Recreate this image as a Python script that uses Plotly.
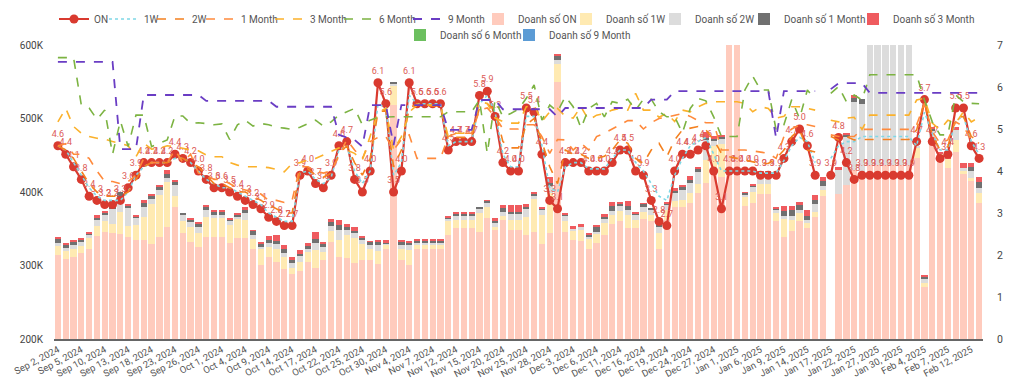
import pandas as pd
import plotly.graph_objects as go

# ---- categories (weekdays) ----
dates = [f"{d:%b} {d.day}, {d.year}" for d in pd.bdate_range("2024-09-02", "2025-02-13")]

# ---- line series (right axis) ----
rate_on = [4.6,4.4,4.1,3.8,3.4,3.3,3.2,3.2,3.3,3.6,
           3.9,4.2,4.2,4.2,4.2,4.4,4.3,4.2,4.0,3.8,
           3.6,3.6,3.5,3.4,3.3,3.2,3.1,2.9,2.8,2.7,
           2.7,3.9,4.0,3.7,3.6,3.9,4.6,4.7,3.8,3.5,
           4.0,6.1,5.6,3.5,4.0,6.1,5.6,5.6,5.6,5.6,
           4.5,4.7,4.7,4.7,5.8,5.9,5.3,4.2,4.0,4.0,
           5.5,5.4,4.4,3.3,3.1,4.2,4.2,4.2,4.0,4.0,
           4.0,4.2,4.5,4.5,4.0,3.9,3.3,2.8,2.7,4.0,
           4.4,4.4,4.5,4.6,4.0,3.1,4.0,4.0,4.0,4.0,
           3.9,3.9,3.9,4.3,4.7,5.0,4.6,3.9,None,3.9,
           4.8,4.2,3.8,3.9,3.9,3.9,3.9,3.9,3.9,3.9,
           4.7,5.7,4.7,4.3,4.4,5.5,5.5,4.6,4.3]
rate_1w = [4.6,4.5,4.2,3.9,3.6,3.4,3.3,3.3,3.3,3.5,3.9,4.1,4.2,4.2,4.2,4.3,4.3,4.2,4.0,3.8,3.7,3.6,3.6,3.5,3.4,3.3,3.2,3.0,2.9,2.8,2.8,
           3.95,4.0,3.8,3.7,3.85,4.5,4.6,4.0,3.7,4.0,5.6,5.5,3.9,4.2,5.8,5.6,5.6,5.6,5.6,4.6,4.7,4.7,4.7,5.6,5.8,5.4,4.4,4.1,4.1,5.3,5.3,4.6,3.6,3.5,4.1,4.2,4.2,4.05,4.05,4.05,
           4.3,4.5,4.5,4.2,4.0,3.7,3.4,3.3,3.9,4.3,4.6,4.7,4.8,4.4,4.0,4.0,4.0,4.0,4.0,3.95,3.95,3.95,4.25,4.6,4.8,
           4.7,4.2,None,4.3,4.6,4.7,4.7,4.82,4.82,4.82,4.82,4.82,4.82,4.82,4.6,5.4,4.9,4.5,4.5,5.2,5.3,4.7,4.4]
rate_2w = [4.6,4.5,4.3,4.0,3.7,3.5,3.4,3.4,3.4,3.5,3.8,4.1,4.2,4.2,4.2,4.3,4.3,4.2,4.1,3.9,3.7,3.7,3.6,3.5,3.5,3.4,3.3,3.2,3.1,3.0,3.0,
           4.0,4.05,3.9,3.85,3.95,4.4,4.6,4.2,3.9,4.3,5.4,5.45,4.1,4.5,5.5,5.6,5.55,5.55,5.55,4.75,4.8,4.8,4.8,5.5,5.6,5.45,4.7,4.55,4.55,5.1,5.25,4.7,4.1,3.7,4.5,4.4,4.4,4.3,4.3,4.35,
           4.5,4.74,4.66,4.3,4.18,4.5,4.66,4.34,4.74,4.98,5.02,5.06,4.98,4.74,4.42,4.34,4.3,4.26,4.22,4.18,4.18,4.3,4.5,4.82,4.98,
           4.5,4.45,None,4.82,4.74,4.82,4.74,4.75,4.75,4.75,4.75,4.75,4.75,4.75,4.98,5.65,4.86,4.5,4.58,5.26,5.3,4.82,4.7]
rate_1m = [4.6,4.65,4.4,4.4,4.3,4.0,3.75,3.75,3.7,3.75,3.9,4.3,4.2,4.2,4.2,4.5,4.2,4.4,3.95,3.9,3.8,3.8,3.7,3.6,3.55,3.5,3.45,3.3,3.3,3.25,3.3,
           4.1,4.1,4.0,3.95,4.0,4.35,4.75,4.5,4.3,4.7,4.8,4.82,4.5,4.75,4.86,4.3,4.3,4.3,4.3,4.82,4.9,4.9,4.9,5.45,5.5,5.3,5.0,5.0,5.0,5.1,5.1,4.82,4.42,4.75,4.74,4.5,4.66,4.5,4.82,4.9,
           5.0,5.1,5.2,5.2,5.0,5.15,5.25,5.28,5.33,5.37,5.3,5.2,5.15,5.15,4.5,4.5,4.5,4.5,4.48,4.45,4.42,4.3,4.82,5.0,5.1,
           5.1,5.06,None,4.86,4.82,4.82,4.82,4.99,4.99,4.99,4.99,4.99,4.99,4.99,5.1,5.61,4.94,4.66,4.74,5.17,5.06,4.74,4.66]
rate_3m = [5.17,5.49,5.06,4.9,4.82,4.78,4.76,4.7,4.66,4.6,4.34,4.66,4.52,4.54,4.6,4.58,4.54,4.5,4.48,4.38,4.34,4.34,4.2,4.14,4.1,4.1,4.1,4.08,4.04,3.98,4.18,
           4.2,4.26,4.3,4.38,4.46,4.55,4.5,4.42,4.26,4.82,5.4,5.49,4.5,4.82,5.4,5.57,5.57,5.57,5.57,
           4.82,4.9,4.9,4.9,5.65,5.61,5.26,5.18,5.14,5.14,5.53,5.57,5.18,5.41,5.49,5.3,5.26,5.53,5.21,5.33,5.37,
           5.45,5.49,5.45,5.85,5.45,5.45,5.28,5.37,5.18,5.45,5.41,5.53,5.61,5.65,5.65,5.65,5.65,5.61,5.41,5.53,5.49,5.26,5.3,5.53,5.53,
           5.49,5.45,None,5.21,5.17,5.26,5.28,4.99,5.33,5.33,5.33,5.33,5.33,5.33,5.69,5.73,5.14,4.98,5.21,5.14,5.41,5.17,5.28]
rate_6m = [6.7,6.7,6.7,5.57,5.5,5.23,5.45,4.4,5.19,4.58,5.33,5.33,4.58,4.66,4.74,5.31,5.31,5.13,5.15,5.13,5.1,5.12,4.75,5.1,5.21,5.07,5.13,5.1,5.04,5.02,4.99,
           5.04,5.13,5.21,5.07,5.17,5.33,5.41,5.49,5.1,5.21,5.28,5.29,5.29,5.29,5.29,5.29,5.29,5.29,5.29,
           5.41,5.41,5.41,5.41,5.69,4.42,5.69,5.29,5.37,5.47,5.73,6.05,5.21,5.57,5.41,5.77,5.53,5.02,5.49,5.61,5.29,
           5.65,5.61,5.71,5.45,5.71,5.71,5.41,5.29,5.29,4.91,5.49,5.73,5.67,5.29,4.82,4.82,4.82,5.93,6.26,5.93,5.93,4.98,5.1,5.7,5.25,
           5.93,5.7,None,5.85,6.01,5.65,5.81,5.69,6.29,6.29,6.29,6.29,6.29,6.29,6.29,5.69,5.17,4.86,4.86,5.81,5.65,5.61,5.6]
rate_9m = [6.6,6.6,6.6,6.6,6.6,6.6,6.6,6.6,4.52,4.52,4.52,5.81,5.81,5.81,5.81,5.81,5.81,5.81,5.81,5.67,5.67,5.67,5.67,5.67,5.67,5.67,5.67,5.67,
           5.53,5.53,5.53,5.53,5.53,5.53,5.53,5.53,4.86,4.8,4.74,4.58,5.57,5.57,5.57,4.62,5.57,5.57,5.57,5.57,5.57,5.57,
           4.98,4.98,4.98,4.98,5.69,5.69,5.69,5.47,5.47,5.47,5.47,5.47,5.47,5.47,5.29,
           5.5,5.5,5.5,5.5,5.5,5.5,5.5,5.5,5.5,5.5,5.5,5.7,5.7,5.7,
           5.9,5.9,5.9,5.9,5.9,5.9,5.9,5.9,5.9,5.9,5.9,5.9,5.9,4.78,5.9,5.9,5.9,5.9,5.9,None,5.95,
           6.09,6.09,6.09,6.09,5.86,5.86,5.86,5.86,5.86,5.86,5.86,5.86,5.86,5.86,5.86,5.86,5.86,5.86,5.86]

# ---- stacked bars (left axis, thousands) ----
bar_on = [314,309,311,317,323,340,346,344,343,339,
          335,335,329,339,353,380,344,332,325,339,
          339,339,330,338,337,322,301,312,305,295,
          289,292,305,296,307,332,312,310,304,307,
          307,302,323,518,307,301,322,322,322,322,
          341,351,351,351,345,365,348,362,348,348,
          342,345,329,344,549,346,335,333,322,330,
          341,357,360,351,351,363,360,322,362,380,
          380,385,399,412,425,420,660,660,381,385,
          397,397,360,339,347,360,351,366,394,None,
          397,410,430,425,437,437,437,437,437,437,
          446,271,475,443,432,455,425,415,385]
bar_1w = [13,11,12,9,14,14,14,13,30,15,
          20,31,55,57,61,14,17,21,19,27,
          26,26,25,26,25,14,22,13,18,17,
          7,13,14,25,11,15,23,31,34,22,
          15,18,6,26,15,20,6,6,6,6,
          19,11,11,11,27,15,5,5,14,14,
          24,45,40,55,25,14,12,15,14,14,
          17,12,14,18,11,10,9,22,14,8,
          9,13,12,31,37,45,0,0,12,15,
          14,14,11,24,15,11,7,7,9,None,
          0,0,0,0,0,0,0,0,0,0,
          14,5,0,10,14,16,3,4,14]
bar_2w = [4,4,5,6,4,8,10,20,20,24,
          9,14,6,7,5,15,8,7,8,9,
          4,4,5,2,9,5,2,5,6,5,
          8,8,4,10,7,7,13,7,6,6,
          6,8,1,4,6,7,3,3,3,3,
          4,5,5,5,6,6,5,6,8,8,
          11,5,7,9,5,7,3,5,4,2,
          6,5,7,7,7,7,7,9,6,10,
          14,14,16,28,8,8,0,0,3,7,
          10,10,4,4,6,5,4,11,5,None,
          33,65,93,95,250,250,250,250,250,250,
          2,5,9,0,0,13,5,9,6]
bar_1m = [6,4,4,4,3,3,2,5,7,4,
          3,5,4,5,5,5,3,2,5,5,
          5,5,3,3,4,6,4,5,5,6,
          4,3,4,5,4,5,7,5,3,3,
          4,5,1,1,5,3,2,2,2,2,
          1,3,3,3,2,2,2,5,3,3,
          3,3,2,4,6,3,0,0,2,7,
          2,7,4,5,2,4,2,4,3,4,
          4,4,4,3,2,2,0,0,3,2,
          5,5,3,7,7,6,6,5,7,None,
          0,2,5,6,0,0,0,0,0,0,
          0,4,2,0,0,0,0,6,9]
bar_3m = [2,2,3,2,1,4,2,1,0,1,
          1,4,3,2,6,1,0,2,2,2,
          2,2,1,2,5,1,3,5,7,5,
          3,5,3,10,3,4,7,4,5,1,
          1,2,4,0,2,1,3,3,3,3,
          1,3,3,3,0,1,4,4,9,9,
          4,1,2,8,3,2,4,4,2,2,
          4,6,2,7,1,1,0,2,2,3,
          3,6,3,7,4,3,0,0,1,1,
          2,2,2,7,6,4,8,7,5,None,
          4,3,4,0,0,0,0,0,0,0,
          0,2,2,2,2,5,7,6,7]
bar_6m = [0] * len(dates)
bar_9m = [0] * len(dates)

left_ticks = [200, 300, 400, 500, 600]
left_ticktext = ["200K", "300K", "400K", "500K", "600K"]

FONT = "Roboto, Arial, sans-serif"
fig = go.Figure()

# legend placement per entry (text left x in px, row centre y in px)
legend_pos = [(94, 19), (144, 19), (192, 19), (241, 19), (310, 19), (379, 19), (448, 19),
              (518, 19), (606, 19), (695, 19), (784, 19), (893, 19), (440, 35), (549, 35)]
legend_ids = ["legend" if k == 0 else f"legend{k+1}" for k in range(len(legend_pos))]

lines = [
    ("ON", rate_on, "#d93a2f", "solid", 2.2),
    ("1W", rate_1w, "#7fd8e6", "dot", 1.6),
    ("2W", rate_2w, "#f4801f", "dash", 1.6),
    ("1 Month", rate_1m, "#ff8a3c", "dash", 1.6),
    ("3 Month", rate_3m, "#fbb12b", "dash", 1.6),
    ("6 Month", rate_6m, "#7cb342", "dash", 1.6),
    ("9 Month", rate_9m, "#6a3dc4", "dash", 1.8),
]
k = 0
for name, vals, col, dash, w in lines:
    if name == "ON":
        fig.add_trace(go.Scatter(
            x=dates, y=vals, name=name, yaxis="y2", mode="lines+markers+text",
            line=dict(color=col, width=w), marker=dict(color=col, size=9),
            texttemplate="%{y:.1f}", textposition="top center",
            textfont=dict(size=9, color="#dc5b57", family=FONT),
            cliponaxis=False, connectgaps=False, legend=legend_ids[k]))
    else:
        fig.add_trace(go.Scatter(
            x=dates, y=vals, name=name, yaxis="y2", mode="lines",
            line=dict(color=col, width=w, dash=dash), connectgaps=False,
            legend=legend_ids[k]))
    k += 1

bars = [
    ("Doanh số ON", bar_on, "#ffcbbd"),
    ("Doanh số 1W", bar_1w, "#ffeab2"),
    ("Doanh số 2W", bar_2w, "#dcdcdc"),
    ("Doanh số 1 Month", bar_1m, "#707070"),
    ("Doanh số 3 Month", bar_3m, "#ef5b5f"),
    ("Doanh số 6 Month", bar_6m, "#6cbf5f"),
    ("Doanh số 9 Month", bar_9m, "#5b9bd5"),
]
for name, vals, col in bars:
    fig.add_trace(go.Bar(x=dates, y=vals, name=name, marker=dict(color=col, line=dict(width=0)),
                         yaxis="y", legend=legend_ids[k]))
    k += 1

legends = {}
for lid, (tx, ty) in zip(legend_ids, legend_pos):
    legends[lid] = dict(x=(tx - 40) / 1024, xref="container", xanchor="left",
                        y=1 - ty / 388, yref="container", yanchor="middle",
                        orientation="h", itemwidth=30, bgcolor="rgba(0,0,0,0)",
                        borderwidth=0, font=dict(size=10, color="#555", family=FONT))

tickcats = dates[::3]
fig.update_layout(
    width=1024, height=388,
    margin=dict(l=54, r=41, t=45, b=49, autoexpand=False),
    paper_bgcolor="white", plot_bgcolor="white",
    font=dict(family=FONT, size=10, color="#444"),
    barmode="stack", bargap=0.2,
    showlegend=True,
    xaxis=dict(type="category", categoryorder="array", categoryarray=dates,
               range=[-0.5, len(dates) - 0.5], autorange=False,
               tickmode="array", tickvals=tickcats, ticktext=tickcats,
               tickangle=-28, tickfont=dict(size=9.5, color="#555"),
               showgrid=False, showline=True, linecolor="#666", linewidth=1.5,
               ticks="", automargin=False),
    yaxis=dict(range=[200, 600], tickmode="array", tickvals=left_ticks, ticktext=left_ticktext,
               showgrid=False, zeroline=False, showline=False, ticks="",
               tickfont=dict(size=10, color="#444"), automargin=False, ticklabelstandoff=10),
    yaxis2=dict(range=[0, 7], dtick=1, overlaying="y", side="right",
                showgrid=False, zeroline=False, showline=False, ticks="",
                tickfont=dict(size=10.5, color="#444"), automargin=False, ticklabelstandoff=13),
    **legends,
)

fig.write_html("out.html", config={"displayModeBar": False},
               post_script="document.body.style.margin='0px';")
